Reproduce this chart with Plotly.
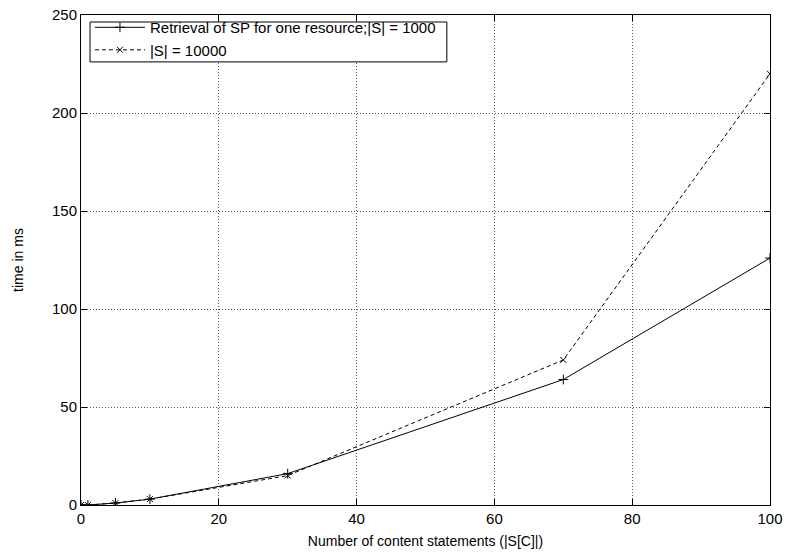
import plotly.graph_objects as go

x_vals = [0, 1, 5, 10, 30, 70, 100]
s1000 = [0, 0, 1, 3, 16, 64, 126]
s10000 = [0, 0, 1, 3, 15, 74, 220]
name1 = "Retrieval of SP for one resource;|S| = 1000"
name2 = "|S| = 10000"

fig = go.Figure()
fig.add_trace(go.Scatter(x=x_vals, y=s1000, name=name1, mode="lines+markers",
                         line=dict(color="black", width=1),
                         marker=dict(symbol="cross-thin", size=7, line=dict(color="black", width=1))))
fig.add_trace(go.Scatter(x=x_vals, y=s10000, name=name2, mode="lines+markers",
                         line=dict(color="black", width=1, dash="4px,3px"),
                         marker=dict(symbol="x-thin", size=6, line=dict(color="black", width=1))))

axis_common = dict(showline=True, linecolor="black", linewidth=1, mirror="ticks",
                   ticks="inside", ticklen=6, tickcolor="black", automargin=False,
                   showgrid=True, gridcolor="#555", griddash="1px,2px", gridwidth=1,
                   zeroline=False, tickfont=dict(size=15, color="black"))
fig.update_xaxes(range=[0, 100], dtick=20,
                 title=dict(text="Number of content statements (|S[C]|)", font=dict(size=14), standoff=10),
                 **axis_common)
fig.update_yaxes(range=[0, 250], dtick=50,
                 title=dict(text="time in ms", font=dict(size=14), standoff=25),
                 **axis_common)

# legend frame (white box with black border, like the original key box)
fig.add_shape(type="rect", xref="paper", yref="paper", x0=0.0131, x1=0.531, y0=0.9043, y1=0.9857,
              line=dict(color="black", width=1), fillcolor="white", layer="above")

fig.update_layout(width=785, height=554, margin=dict(l=81, r=15, t=14, b=49),
                  plot_bgcolor="white", paper_bgcolor="white",
                  font=dict(family="Liberation Sans, Arial, sans-serif", color="black", size=14),
                  legend=dict(x=0.013, y=1.006, xanchor="left", yanchor="top",
                              borderwidth=0, bgcolor="rgba(0,0,0,0)",
                              font=dict(size=15), tracegroupgap=0, itemwidth=50))
fig.write_html("out.html")
